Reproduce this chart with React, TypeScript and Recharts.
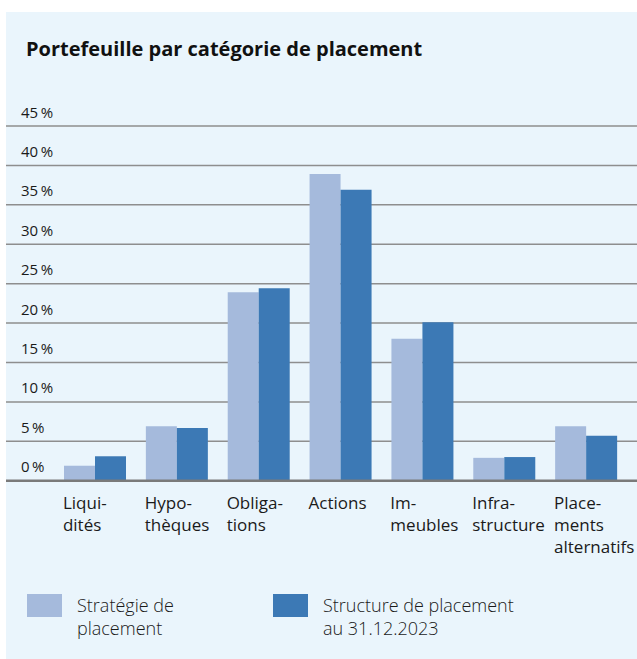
import React from 'react';
import { BarChart, Bar, XAxis, YAxis, CartesianGrid, Legend } from 'recharts';

const categories = [
  'Liqui-\ndités',
  'Hypo-\nthèques',
  'Obliga-\ntions',
  'Actions',
  'Im-\nmeubles',
  'Infra-\nstructure',
  'Place-\nments\nalternatifs',
];
const strategie = [1.9, 6.9, 23.9, 38.9, 18.0, 2.9, 6.9];
const structure = [3.1, 6.7, 24.4, 36.9, 20.1, 3.0, 5.7];
const yTicks = [0, 5, 10, 15, 20, 25, 30, 35, 40, 45];
const seriesNames = ['Stratégie de\nplacement', 'Structure de placement\nau 31.12.2023'];
const title = 'Portefeuille par catégorie de placement';

const LIGHT = '#A5BADC';
const DARK = '#3C79B5';
const BG = '#EAF5FC';
const FONT = '"Open Sans", "Noto Sans", sans-serif';

const data = categories.map((c, i) => ({ name: c, strategie: strategie[i], structure: structure[i] }));

const XTick = (props: any) => {
  const { x, y, payload } = props;
  const lines: string[] = String(payload.value).split('\n');
  const lx = x - 32;
  return (
    <text x={lx} y={y + 28.5} fontSize={17} fill="#1a1a1a" fontFamily={FONT} textAnchor="start">
      {lines.map((l, i) => (
        <tspan key={i} x={lx} dy={i === 0 ? 0 : 22}>{l}</tspan>
      ))}
    </text>
  );
};

const renderYTick = (props: any) => {
  const { y, payload } = props;
  return (
    <text x={15} y={y - 8.5} fontSize={15} fill="#1a1a1a" fontFamily={FONT} textAnchor="start">
      {`${payload.value}\u2009%`}
    </text>
  );
};

const LegendContent = () => {
  const items = [
    { color: LIGHT, label: seriesNames[0], sx: 21, tx: 71 },
    { color: DARK, label: seriesNames[1], sx: 267, tx: 317 },
  ];
  return (
    <svg width={631} height={77} style={{ display: 'block' }}>
      {items.map((it, i) => (
        <g key={i}>
          <rect x={it.sx} y={12} width={35} height={23} fill={it.color} />
          <text x={it.tx} y={30} fontSize={18} fontWeight={300} fill="#1a1a1a" fontFamily={FONT}>
            {it.label.split('\n').map((l, j) => (
              <tspan key={j} x={it.tx} dy={j === 0 ? 0 : 23}>{l}</tspan>
            ))}
          </text>
        </g>
      ))}
    </svg>
  );
};

export default function App() {
  return (
    <div style={{ position: 'absolute', left: 6, top: 12, width: 631, height: 647, background: BG }}>
      <div
        style={{
          position: 'absolute',
          left: 20,
          top: 27,
          fontFamily: FONT,
          fontWeight: 700,
          fontSize: 20,
          lineHeight: 1,
          color: '#111',
          whiteSpace: 'nowrap',
        }}
      >
        {title}
      </div>
      <BarChart
        width={631}
        height={647}
        data={data}
        margin={{ top: 114, right: 0, bottom: 118.3, left: -1 }}
        barCategoryGap={10}
        barGap={0}
      >
        <CartesianGrid vertical={false} stroke="#8e8e8e" strokeWidth={1.5} />
        <YAxis
          width={1}
          domain={[0, 45]}
          ticks={yTicks}
          axisLine={false}
          tickLine={false}
          tick={renderYTick}
          interval={0}
        />
        <XAxis
          dataKey="name"
          height={60}
          padding={{ left: 48, right: 10 }}
          axisLine={{ stroke: '#7a7a7a', strokeWidth: 2.5 }}
          tickLine={false}
          tickSize={0}
          tickMargin={0}
          interval={0}
          tick={<XTick />}
        />
        <Bar dataKey="strategie" fill={LIGHT} isAnimationActive={false} />
        <Bar dataKey="structure" fill={DARK} isAnimationActive={false} />
        <Legend
          layout="horizontal"
          verticalAlign="middle"
          align="center"
          content={<LegendContent />}
          wrapperStyle={{ position: 'absolute', left: 0, top: 570, width: 631, height: 77 }}
        />
      </BarChart>
    </div>
  );
}
